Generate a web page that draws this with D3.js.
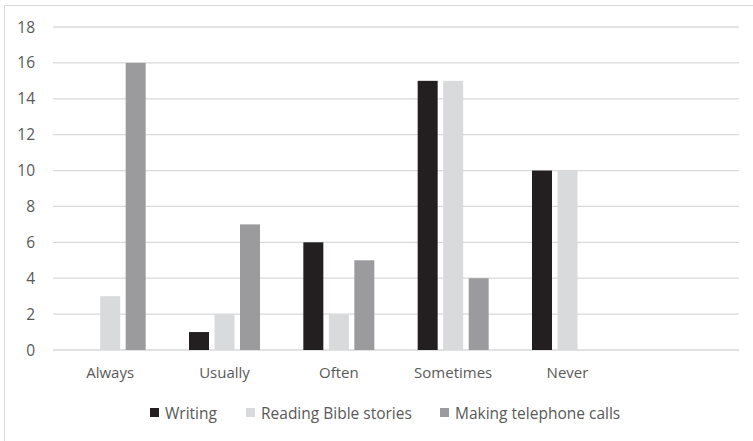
<!DOCTYPE html>
<html>
<head>
<meta charset="utf-8">
<script src="https://cdn.jsdelivr.net/npm/d3@7"></script>
<style>
  body { margin: 0; background: #fff; }
  svg { display: block; }
  text { font-family: "Open Sans", sans-serif; fill: #595959; }
</style>
</head>
<body>
<div id="chart"></div>
<script>

// data
var categories = ["Always", "Usually", "Often", "Sometimes", "Never", ""];
var seriesNames = ["Writing", "Reading Bible stories", "Making telephone calls"];
var writing = [0, 1, 6, 15, 10, 0];
var reading = [3, 2, 2, 15, 10, 0];
var calls   = [16, 7, 5, 4, 0, 0];
var yTicks  = [0, 2, 4, 6, 8, 10, 12, 14, 16, 18];

var colors = ["#231f20", "#d9dadc", "#9b9b9e"];
var series = [writing, reading, calls];

var W = 753, H = 441;
var margin = {top: 27, right: 14, bottom: 91, left: 53};

var svg = d3.select("#chart").append("svg")
    .attr("width", W)
    .attr("height", H);

// chart border (only top/left visible in the picture)
svg.append("path")
    .attr("d", "M4.5," + H + " L4.5,5.5 L" + W + ",5.5")
    .attr("fill", "none")
    .attr("stroke", "#d9d9d9")
    .attr("stroke-width", 1);

var x = d3.scaleBand()
    .domain(d3.range(categories.length))
    .range([margin.left, W - margin.right]);

var y = d3.scaleLinear()
    .domain([0, 18])
    .range([H - margin.bottom, margin.top]);

// gridlines
svg.append("g")
  .selectAll("line")
  .data(yTicks)
  .enter().append("line")
    .attr("x1", margin.left)
    .attr("x2", W - margin.right)
    .attr("y1", function(d){ return y(d); })
    .attr("y2", function(d){ return y(d); })
    .attr("stroke", "#d9d9d9")
    .attr("stroke-width", 1.3);

// y labels
svg.append("g")
  .selectAll("text")
  .data(yTicks)
  .enter().append("text")
    .attr("x", 35)
    .attr("y", function(d){ return y(d); })
    .attr("dy", "0.36em")
    .attr("text-anchor", "end")
    .style("font-size", "15.5px")
    .text(function(d){ return d; });

// bars
var barW = 20, gap = 5.5;
var inner = d3.scaleBand()
    .domain(d3.range(series.length))
    .range([0, 3 * barW + 2 * gap])
    .paddingInner(gap / (barW + gap));

var groups = svg.append("g")
  .selectAll("g")
  .data(categories)
  .enter().append("g")
    .attr("transform", function(d, i){
      return "translate(" + (x(i) + x.bandwidth() / 2 - (3 * barW + 2 * gap) / 2) + ",0)";
    });

groups.selectAll("rect")
  .data(function(d, i){ return series.map(function(s, k){ return {k: k, v: s[i]}; }); })
  .enter().append("rect")
    .filter(function(d){ return d.v > 0; })
    .attr("x", function(d){ return inner(d.k); })
    .attr("width", inner.bandwidth())
    .attr("y", function(d){ return y(d.v); })
    .attr("height", function(d){ return y(0) - y(d.v); })
    .attr("fill", function(d){ return colors[d.k]; });

// category labels
svg.append("g")
  .selectAll("text")
  .data(categories)
  .enter().append("text")
    .attr("x", function(d, i){ return x(i) + x.bandwidth() / 2; })
    .attr("y", 378)
    .attr("text-anchor", "middle")
    .style("font-size", "15px")
    .text(function(d){ return d; });

// legend
var legendX = [150, 246, 440];
var leg = svg.append("g")
  .selectAll("g")
  .data(seriesNames)
  .enter().append("g")
    .attr("transform", function(d, i){ return "translate(" + legendX[i] + ",413)"; });

leg.append("rect")
    .attr("x", 0)
    .attr("y", -5)
    .attr("width", 9)
    .attr("height", 9)
    .attr("fill", function(d, i){ return colors[i]; });

leg.append("text")
    .attr("x", 15)
    .attr("y", 0)
    .attr("dy", "0.36em")
    .style("font-size", "15.5px")
    .text(function(d){ return d; });

</script>
</body>
</html>
